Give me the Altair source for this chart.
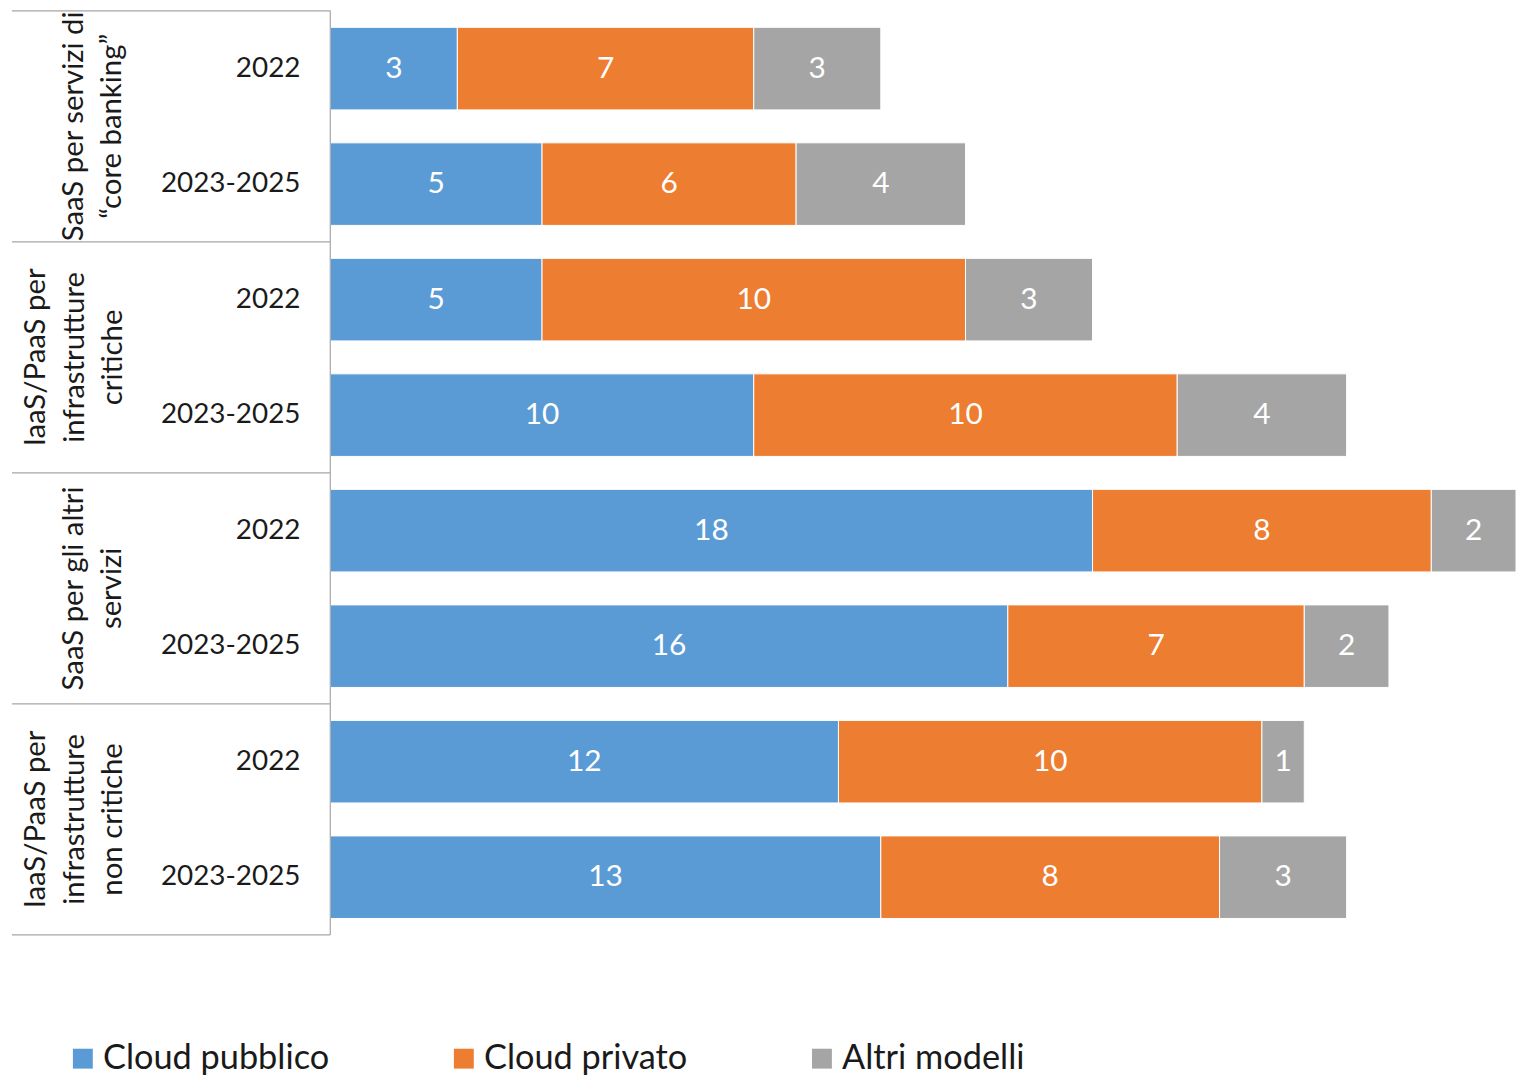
import altair as alt
import pandas as pd

groups = [
    "SaaS per servizi di\n“core banking”",
    "IaaS/PaaS per\ninfrastrutture\ncritiche",
    "SaaS per gli altri\nservizi",
    "IaaS/PaaS per\ninfrastrutture\nnon critiche",
]
periods = ["2022", "2023-2025"]
series = ["Cloud pubblico", "Cloud privato", "Altri modelli"]
colors = ["#5B9BD5", "#ED7D31", "#A5A5A5"]

pubblico = [3, 5, 5, 10, 18, 16, 12, 13]
privato = [7, 6, 10, 10, 8, 7, 10, 8]
altri = [3, 4, 3, 4, 2, 2, 1, 3]

FONT = "Lato"

# ---- build tables ----
vals = [pubblico, privato, altri]
bar_rows = []
row_rows = []
n_rows = len(pubblico)
for r in range(n_rows):
    start = 0
    for s, name in enumerate(series):
        v = vals[s][r]
        bar_rows.append({"row": r, "series": name, "start": start,
                         "end": start + v, "mid": start + v / 2, "value": v})
        start += v
    row_rows.append({"row": r, "period": periods[r % len(periods)]})
bars_df = pd.DataFrame(bar_rows)
rows_df = pd.DataFrame(row_rows)

n_per = len(periods)
group_df = pd.DataFrame({
    "group": groups,
    "gc": [i * n_per + (n_per - 1) / 2 for i in range(len(groups))],
    "nlines": [g.count("\n") + 1 for g in groups],
})
div_df = pd.DataFrame({"b": [i * n_per - 0.5 for i in range(len(groups) + 1)]})
axis_df = pd.DataFrame({"y0": [-0.5], "y1": [n_rows - 0.5]})

xscale = alt.Scale(domain=[0, 28], nice=False, zero=True, padding=0)
yscale = alt.Scale(domain=[-0.5, n_rows - 0.5], reverse=True, nice=False,
                   zero=False, padding=0)

bars = alt.Chart(bars_df).mark_bar(
    orient="horizontal", size=83, stroke="white", strokeWidth=1
).encode(
    x=alt.X("start:Q", scale=xscale, axis=None),
    x2="end:Q",
    y=alt.Y("row:Q", scale=yscale, axis=None),
    color=alt.Color(
        "series:N",
        scale=alt.Scale(domain=series, range=colors),
        sort=series,
        legend=alt.Legend(
            title=None,
            orient="none",
            direction="horizontal",
            legendX=-266,
            legendY=1036,
            symbolType="square",
            symbolSize=400,
            symbolStrokeWidth=0,
            symbolOpacity=1,
            labelFont=FONT,
            labelFontSize=34.5,
            labelColor="#1a1a1a",
            labelOffset=3,
            columnPadding=118,
            labelLimit=400,
        ),
    ),
)

bar_text = alt.Chart(bars_df).mark_text(
    font=FONT, fontSize=30, color="white", align="center", baseline="middle"
).encode(
    x=alt.X("mid:Q", scale=xscale, axis=None),
    y=alt.Y("row:Q", scale=yscale, axis=None),
    text="value:Q",
)

year_text = alt.Chart(rows_df).mark_text(
    font=FONT, fontSize=28, color="#1a1a1a", align="right", baseline="middle"
).encode(
    x=alt.value(-30),
    y=alt.Y("row:Q", scale=yscale, axis=None),
    text="period:N",
)


def group_layer(nl, xpos):
    return alt.Chart(group_df).transform_filter(
        f"datum.nlines == {nl}"
    ).mark_text(
        font=FONT, fontSize=29.5, color="#1a1a1a", align="center", baseline="bottom",
        angle=270, lineBreak="\n", lineHeight=39
    ).encode(
        x=alt.value(xpos),
        y=alt.Y("gc:Q", scale=yscale, axis=None),
        text="group:N",
    )


group_text3 = group_layer(3, -281)
group_text2 = group_layer(2, -243)

dividers = alt.Chart(div_df).mark_rule(color="#a6a6a6", strokeWidth=1.2).encode(
    y=alt.Y("b:Q", scale=yscale, axis=None),
    x=alt.value(-320),
    x2=alt.value(0),
)

axis_line = alt.Chart(axis_df).mark_rule(color="#a6a6a6", strokeWidth=1.2).encode(
    x=alt.value(0),
    y=alt.Y("y0:Q", scale=yscale, axis=None),
    y2="y1:Q",
)

chart = alt.layer(
    bars, bar_text, year_text, group_text3, group_text2, dividers, axis_line
).properties(
    width=1192,
    height=929,
    background="white",
    autosize=alt.AutoSizeParams(type="none"),
    padding={"left": 324, "top": 0, "right": 0, "bottom": 150},
).configure_view(strokeWidth=0, stroke=None)

chart.save("out.html", embed_options={"renderer": "svg", "actions": False})
